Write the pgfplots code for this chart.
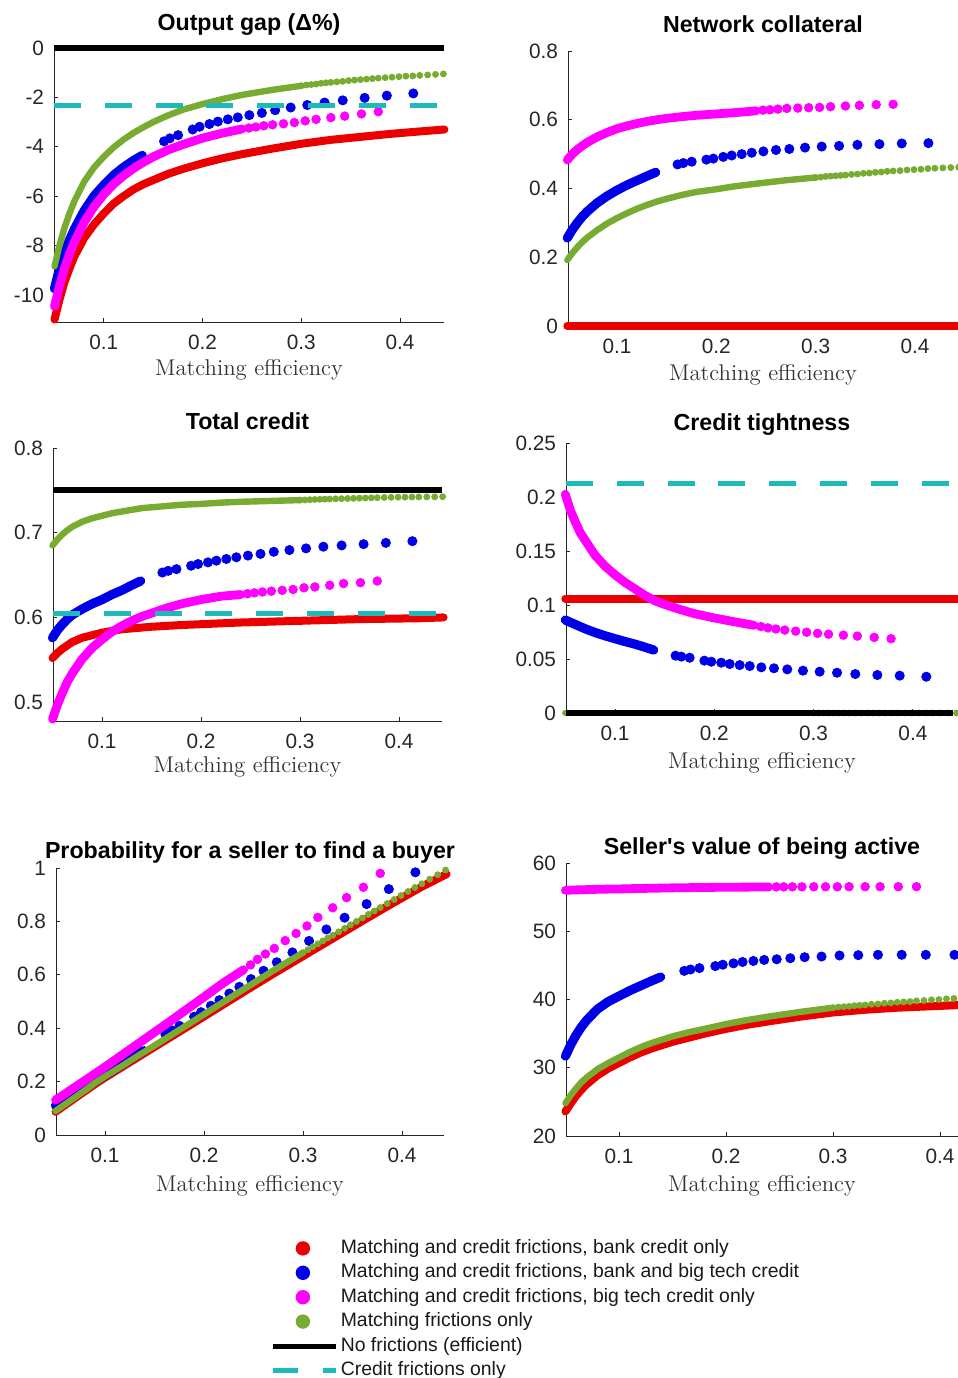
\documentclass[border=0pt]{standalone}
\usepackage{fontspec}
\usepackage{pgfplots}
\pgfplotsset{compat=1.18}
\usepackage{pgfplotstable}
\newfontfamily\arial{Liberation Sans}
\newcommand\tickfont{\arial\fontsize{10.4}{12}\selectfont}
\newcommand\titlefont{\arial\bfseries\fontsize{11.6}{13.9}\selectfont}
\newcommand\labfont{\fontsize{11.4}{13.7}\selectfont}
\newcommand\legfont{\arial\fontsize{9.7}{11.6}\selectfont}
\definecolor{cR}{RGB}{235,0,0}
\definecolor{cB}{RGB}{0,0,230}
\definecolor{cM}{RGB}{255,0,255}
\definecolor{cG}{RGB}{119,172,48}
\definecolor{cC}{RGB}{30,185,185}

% columns: x, output gap, network collateral, total credit, credit tightness, probability, seller value
\pgfplotstableread{
x og nc tc ct pr sv
0.050 -11.00 0 0.552 0.106 0.087 23.6
0.055 -10.20 0 0.558 0.106 0.100 24.8
0.060 -9.50 0 0.563 0.106 0.113 25.9
0.065 -8.95 0 0.567 0.106 0.126 26.8
0.070 -8.45 0 0.571 0.106 0.139 27.6
0.080 -7.70 0 0.576 0.106 0.165 28.9
0.090 -7.15 0 0.579 0.106 0.191 29.9
0.100 -6.70 0 0.582 0.106 0.215 30.7
0.110 -6.30 0 0.584 0.106 0.238 31.5
0.120 -6.00 0 0.586 0.106 0.261 32.2
0.130 -5.73 0 0.587 0.106 0.284 32.8
0.140 -5.52 0 0.588 0.106 0.307 33.3
0.150 -5.35 0 0.589 0.106 0.330 33.8
0.165 -5.10 0 0.590 0.106 0.364 34.4
0.180 -4.90 0 0.591 0.106 0.398 35.0
0.200 -4.67 0 0.592 0.106 0.444 35.7
0.220 -4.47 0 0.593 0.106 0.490 36.3
0.240 -4.30 0 0.594 0.106 0.536 36.8
0.270 -4.08 0 0.595 0.106 0.604 37.5
0.300 -3.88 0 0.596 0.106 0.670 38.1
0.330 -3.72 0 0.597 0.106 0.736 38.5
0.360 -3.60 0 0.598 0.106 0.802 38.8
0.390 -3.48 0 0.5985 0.106 0.867 39.0
0.420 -3.38 0 0.599 0.106 0.930 39.2
0.445 -3.30 0 0.600 0.106 0.977 39.4
}\tRed

\pgfplotstableread{
x og nc tc ct pr sv
0.050 -9.75 0.256 0.576 0.0861 0.110 31.7
0.055 -8.95 0.280 0.585 0.0840 0.121 33.4
0.060 -8.35 0.300 0.592 0.0820 0.132 34.8
0.065 -7.80 0.318 0.598 0.0800 0.144 36.0
0.070 -7.35 0.333 0.603 0.0780 0.155 37.0
0.080 -6.60 0.358 0.610 0.0745 0.178 38.6
0.090 -6.00 0.378 0.616 0.0715 0.201 39.7
0.100 -5.55 0.395 0.621 0.0688 0.224 40.5
0.110 -5.15 0.410 0.627 0.0662 0.247 41.3
0.120 -4.83 0.423 0.632 0.0638 0.271 42.0
0.130 -4.56 0.436 0.638 0.0610 0.295 42.7
0.139 -4.35 0.447 0.643 0.0583 0.316 43.3
}\tBlueD

\pgfplotstableread{
x og nc tc ct pr sv
0.161 -3.78 0.470 0.653 0.0531 0.378 44.2
0.1668 -3.66 0.474 0.655 0.0522 0.393 44.4
0.1752 -3.53 0.478 0.657 0.0512 0.409 44.6
0.190 -3.30 0.484 0.661 0.0485 0.443 44.9
0.197 -3.19 0.487 0.663 0.0475 0.460 45.1
0.207 -3.08 0.492 0.665 0.0466 0.484 45.3
0.2155 -2.98 0.496 0.667 0.0454 0.505 45.5
0.2256 -2.89 0.500 0.669 0.0444 0.530 45.65
0.2357 -2.81 0.504 0.671 0.0435 0.555 45.8
0.2474 -2.72 0.508 0.673 0.0423 0.584 45.9
0.2601 -2.63 0.512 0.675 0.0414 0.615 46.05
0.2735 -2.52 0.515 0.6775 0.0404 0.647 46.2
0.2893 -2.41 0.519 0.6795 0.0392 0.684 46.3
0.3061 -2.31 0.522 0.6815 0.0383 0.727 46.45
0.3236 -2.21 0.524 0.6835 0.0373 0.770 46.5
0.342 -2.12 0.527 0.685 0.0361 0.814 46.55
0.3642 -2.02 0.529 0.6865 0.0352 0.865 46.55
0.3867 -1.93 0.531 0.688 0.0346 0.921 46.55
0.4135 -1.84 0.532 0.690 0.0336 0.984 46.55
}\tBlueS

\pgfplotstableread{
x og nc tc ct pr sv
0.050 -10.47 0.483 0.480 0.2025 0.131 56.00
0.055 -9.65 0.500 0.497 0.188 0.143 56.03
0.060 -8.95 0.513 0.511 0.177 0.155 56.06
0.065 -8.37 0.524 0.524 0.167 0.168 56.09
0.070 -7.87 0.534 0.534 0.160 0.180 56.10
0.080 -7.06 0.550 0.551 0.146 0.205 56.15
0.090 -6.43 0.563 0.564 0.136 0.230 56.18
0.100 -5.93 0.574 0.574 0.128 0.255 56.20
0.110 -5.51 0.582 0.583 0.121 0.281 56.24
0.120 -5.17 0.589 0.590 0.115 0.307 56.27
0.130 -4.88 0.595 0.596 0.109 0.333 56.30
0.140 -4.63 0.600 0.601 0.104 0.359 56.33
0.150 -4.41 0.604 0.605 0.1005 0.385 56.36
0.165 -4.13 0.609 0.611 0.096 0.424 56.39
0.180 -3.91 0.613 0.616 0.092 0.464 56.42
0.200 -3.65 0.617 0.621 0.088 0.517 56.45
0.220 -3.45 0.621 0.625 0.0845 0.571 56.47
0.240 -3.28 0.626 0.627 0.0812 0.619 56.49
}\tMagD

\pgfplotstableread{
x og nc tc ct pr sv
0.247 -3.24 0.628 0.628 0.0800 0.637 56.50
0.254 -3.20 0.629 0.629 0.0788 0.658 56.50
0.262 -3.15 0.631 0.630 0.0778 0.678 56.51
0.271 -3.11 0.633 0.631 0.0768 0.699 56.51
0.282 -3.07 0.634 0.632 0.0758 0.728 56.52
0.293 -3.02 0.635 0.633 0.0748 0.755 56.52
0.304 -2.95 0.636 0.635 0.0738 0.783 56.52
0.315 -2.89 0.638 0.636 0.0730 0.815 56.53
0.330 -2.82 0.640 0.638 0.0721 0.851 56.53
0.344 -2.76 0.642 0.640 0.0712 0.889 56.53
0.361 -2.67 0.644 0.641 0.0700 0.928 56.53
0.378 -2.58 0.645 0.643 0.0688 0.980 56.53
}\tMagS

\pgfplotstableread{
x og nc tc ct pr sv
0.050 -8.85 0.192 0.685 0 0.090 24.8
0.055 -8.00 0.212 0.692 0 0.103 26.0
0.060 -7.30 0.229 0.698 0 0.116 27.0
0.065 -6.72 0.244 0.703 0 0.129 27.9
0.070 -6.22 0.257 0.707 0 0.142 28.6
0.080 -5.42 0.279 0.713 0 0.168 29.8
0.090 -4.84 0.298 0.717 0 0.195 30.7
0.100 -4.40 0.314 0.720 0 0.219 31.5
0.110 -4.02 0.328 0.723 0 0.242 32.3
0.120 -3.71 0.341 0.725 0 0.265 33.0
0.130 -3.44 0.352 0.727 0 0.289 33.6
0.140 -3.21 0.362 0.729 0 0.312 34.1
0.150 -3.00 0.370 0.730 0 0.335 34.6
0.165 -2.73 0.381 0.7315 0 0.370 35.2
0.180 -2.50 0.390 0.733 0 0.405 35.7
0.200 -2.27 0.398 0.734 0 0.452 36.4
0.220 -2.07 0.407 0.7355 0 0.499 37.0
0.240 -1.90 0.414 0.7365 0 0.546 37.5
0.270 -1.70 0.424 0.7375 0 0.616 38.2
0.300 -1.53 0.432 0.7385 0 0.683 38.8
}\tGreenD

\pgfplotstableread{
x og nc tc ct pr sv
0.300 -1.53 0.432 0.7385 0 0.683 38.8
0.305 -1.50 0.433 0.7387 0 0.694 38.9
0.310 -1.48 0.435 0.7390 0 0.705 38.95
0.315 -1.46 0.436 0.7392 0 0.716 39.0
0.320 -1.43 0.437 0.7394 0 0.727 39.1
0.325 -1.41 0.438 0.7396 0 0.738 39.15
0.330 -1.39 0.439 0.7398 0 0.748 39.2
0.336 -1.37 0.441 0.7400 0 0.761 39.3
0.342 -1.35 0.442 0.7402 0 0.774 39.35
0.348 -1.32 0.444 0.7404 0 0.787 39.45
0.354 -1.30 0.445 0.7406 0 0.800 39.5
0.360 -1.28 0.447 0.7408 0 0.813 39.6
0.366 -1.26 0.448 0.7410 0 0.826 39.65
0.372 -1.24 0.450 0.7412 0 0.839 39.7
0.378 -1.22 0.451 0.7414 0 0.852 39.8
0.385 -1.20 0.452 0.7416 0 0.867 39.85
0.392 -1.18 0.454 0.7418 0 0.882 39.95
0.399 -1.16 0.455 0.7419 0 0.897 40.0
0.406 -1.14 0.456 0.7420 0 0.912 40.1
0.413 -1.13 0.458 0.7421 0 0.927 40.15
0.420 -1.11 0.459 0.7422 0 0.941 40.2
0.428 -1.09 0.460 0.7423 0 0.958 40.3
0.436 -1.07 0.461 0.7424 0 0.975 40.35
0.444 -1.05 0.462 0.7425 0 0.9925 40.4
}\tGreenS

\pgfplotsset{
  panel/.style={
    scale only axis, clip=false, clip marker paths=true, axis lines*=left,
    axis line style={-, line width=0.45pt, black!85},
    tick align=inside, major tick length=2pt,
    tick style={line width=0.45pt, black!85},
    scaled ticks=false, minor tick num=0,
    xtick={0.1,0.2,0.3,0.4}, xticklabels={0.1,0.2,0.3,0.4},
    tick label style={font=\tickfont, text=black!85},
    xticklabel style={anchor=north, inner sep=0pt, yshift=-6.5pt},
    yticklabel style={anchor=east, inner sep=0pt, xshift=-4.8pt},
    title style={font=\titlefont, at={(axis description cs:0.5,1)}, anchor=base},
    xlabel={Matching efficiency},
    xlabel style={font=\labfont, text=black!80, at={(axis description cs:0.5,0)}, anchor=base},
  },
  lR/.style={no markers, draw=cR, line width=4pt, line cap=round, line join=round},
  lB/.style={no markers, draw=cB, line width=4.6pt, line cap=round, line join=round},
  mB/.style={only marks, mark=*, mark size=2.3pt, color=cB},
  lM/.style={no markers, draw=cM, line width=4.4pt, line cap=round, line join=round},
  mM/.style={only marks, mark=*, mark size=2.15pt, color=cM},
  lG/.style={no markers, draw=cG, line width=3.2pt, line cap=round, line join=round},
  mG/.style={only marks, mark=*, mark size=1.5pt, color=cG},
  lK/.style={no markers, draw=black, line width=2.9pt},
  lC/.style={no markers, draw=cC, line width=2.5pt, dash pattern=on 13.5pt off 11.9pt},
}

\begin{document}
\begin{tikzpicture}
\useasboundingbox (0,0) rectangle (479pt,-689pt);
\clip (0,0) rectangle (479pt,-689pt);

% ---------- Panel 1: Output gap
\begin{axis}[panel, at={(27pt,-161pt)}, anchor=south west, width=195pt, height=137pt,
  xmin=0.0495, xmax=0.4446, ymin=-11.1, ymax=0,
  ytick={-10,-8,-6,-4,-2,0}, yticklabels={-10,-8,-6,-4,-2,0},
  title={Output gap (Δ\%)}, title style={yshift=3pt}, xlabel style={yshift=-26.5pt}]
\addplot[lR] table[x=x,y=og]{\tRed};
\addplot[lB] table[x=x,y=og]{\tBlueD};
\addplot[mB] table[x=x,y=og]{\tBlueS};
\addplot[lM] table[x=x,y=og]{\tMagD};
\addplot[mM] table[x=x,y=og]{\tMagS};
\addplot[lG] table[x=x,y=og]{\tGreenD};
\addplot[mG] table[x=x,y=og]{\tGreenS};
\addplot[lK] coordinates {(0.0495,0) (0.4446,0)};
\addplot[lC] coordinates {(0.0495,-2.31) (0.4446,-2.31)};
\end{axis}

% ---------- Panel 2: Network collateral
\begin{axis}[panel, at={(284pt,-163pt)}, anchor=south west, width=195pt, height=137.5pt,
  xmin=0.0507, xmax=0.4433, ymin=0, ymax=0.8,
  ytick={0,0.2,0.4,0.6,0.8}, yticklabels={0,0.2,0.4,0.6,0.8},
  title={Network collateral}, title style={yshift=3.3pt}, xlabel style={yshift=-27pt}]
\addplot[lR] table[x=x,y=nc]{\tRed};
\addplot[lB] table[x=x,y=nc]{\tBlueD};
\addplot[mB] table[x=x,y=nc]{\tBlueS};
\addplot[lM] table[x=x,y=nc]{\tMagD};
\addplot[mM] table[x=x,y=nc]{\tMagS};
\addplot[lG] table[x=x,y=nc]{\tGreenD};
\addplot[mG] table[x=x,y=nc]{\tGreenS};
\end{axis}

% ---------- Panel 3: Total credit
\begin{axis}[panel, at={(26.5pt,-360.5pt)}, anchor=south west, width=194.5pt, height=136.5pt,
  xmin=0.0505, xmax=0.4434, ymin=0.4777, ymax=0.8,
  ytick={0.5,0.6,0.7,0.8}, yticklabels={0.5,0.6,0.7,0.8},
  title={Total credit}, title style={yshift=3.3pt}, xlabel style={yshift=-25.8pt}]
\addplot[lR] table[x=x,y=tc]{\tRed};
\addplot[lB] table[x=x,y=tc]{\tBlueD};
\addplot[mB] table[x=x,y=tc]{\tBlueS};
\addplot[lM] table[x=x,y=tc]{\tMagD};
\addplot[mM] table[x=x,y=tc]{\tMagS};
\addplot[lG] table[x=x,y=tc]{\tGreenD};
\addplot[mG] table[x=x,y=tc]{\tGreenS};
\addplot[lK] coordinates {(0.0505,0.75) (0.4434,0.75)};
\addplot[lC] coordinates {(0.0505,0.605) (0.4434,0.605)};
\end{axis}

% ---------- Panel 4: Credit tightness
\begin{axis}[panel, at={(283pt,-356.5pt)}, anchor=south west, width=196pt, height=135pt,
  xmin=0.0507, xmax=0.4454, ymin=0, ymax=0.25,
  ytick={0,0.05,0.1,0.15,0.2,0.25}, yticklabels={0,0.05,0.1,0.15,0.2,0.25},
  title={Credit tightness}, title style={yshift=0.5pt}, xlabel style={yshift=-27.5pt}]
\addplot[lR] table[x=x,y=ct]{\tRed};
\addplot[lB] table[x=x,y=ct]{\tBlueD};
\addplot[mB] table[x=x,y=ct]{\tBlueS};
\addplot[lM] table[x=x,y=ct]{\tMagD};
\addplot[mM] table[x=x,y=ct]{\tMagS};
\addplot[lG] table[x=x,y=ct]{\tGreenD};
\addplot[mG] table[x=x,y=ct]{\tGreenS};
\addplot[lK] coordinates {(0.0507,0) (0.440,0)};
\addplot[lC] coordinates {(0.0507,0.2125) (0.4454,0.2125)};
\end{axis}

% ---------- Panel 5: Probability
\begin{axis}[panel, at={(28pt,-567.5pt)}, anchor=south west, width=194pt, height=133.5pt,
  xmin=0.0505, xmax=0.4424, ymin=0, ymax=1,
  ytick={0,0.2,0.4,0.6,0.8,1}, yticklabels={0,0.2,0.4,0.6,0.8,1},
  title={Probability for a seller to find a buyer}, title style={yshift=-1pt}, xlabel style={yshift=-28.3pt}]
\addplot[lR] table[x=x,y=pr]{\tRed};
\addplot[lB] table[x=x,y=pr]{\tBlueD};
\addplot[mB] table[x=x,y=pr]{\tBlueS};
\addplot[lM] table[x=x,y=pr]{\tMagD};
\addplot[mM] table[x=x,y=pr]{\tMagS};
\addplot[lG] table[x=x,y=pr]{\tGreenD};
\addplot[mG] table[x=x,y=pr]{\tGreenS};
\end{axis}

% ---------- Panel 6: Seller's value
\begin{axis}[panel, at={(283pt,-568pt)}, anchor=south west, width=196pt, height=136.5pt,
  xmin=0.0505, xmax=0.4168, ymin=20, ymax=60,
  ytick={20,30,40,50,60}, yticklabels={20,30,40,50,60},
  title={Seller\textquotesingle s value of being active}, title style={yshift=-1.5pt}, xlabel style={yshift=-27.8pt}]
\addplot[lR] table[x=x,y=sv]{\tRed};
\addplot[lB] table[x=x,y=sv]{\tBlueD};
\addplot[mB] table[x=x,y=sv]{\tBlueS};
\addplot[lM] table[x=x,y=sv]{\tMagD};
\addplot[mM] table[x=x,y=sv]{\tMagS};
\addplot[lG] table[x=x,y=sv]{\tGreenD};
\addplot[mG] table[x=x,y=sv]{\tGreenS};
\end{axis}

% ---------- Legend
\begin{axis}[hide axis, scale only axis, width=479pt, height=689pt,
  at={(0pt,-689pt)}, anchor=south west, xmin=0, xmax=1, ymin=0, ymax=1,
  legend cell align=left,
  legend style={at={(0.28184,0.1032)}, anchor=north west, draw=none, fill=none,
    inner sep=0pt, row sep=0pt, font=\legfont, text=black!90,
    nodes={inner xsep=1.2pt, inner ysep=1.6pt, text height=7pt, text depth=2pt}}]
\addlegendimage{legend image code/.code={\path[draw=none,fill=none] (0pt,0pt) -- (31.5pt,0pt); \fill[cR,draw=none] (15pt,0pt) circle (3.6pt);}}
\addlegendentry{Matching and credit frictions, bank credit only}
\addlegendimage{legend image code/.code={\path[draw=none,fill=none] (0pt,0pt) -- (31.5pt,0pt); \fill[cB,draw=none] (15pt,0pt) circle (3.6pt);}}
\addlegendentry{Matching and credit frictions, bank and big tech credit}
\addlegendimage{legend image code/.code={\path[draw=none,fill=none] (0pt,0pt) -- (31.5pt,0pt); \fill[cM,draw=none] (15pt,0pt) circle (3.6pt);}}
\addlegendentry{Matching and credit frictions, big tech credit only}
\addlegendimage{legend image code/.code={\path[draw=none,fill=none] (0pt,0pt) -- (31.5pt,0pt); \fill[cG,draw=none] (15pt,0pt) circle (3.6pt);}}
\addlegendentry{Matching frictions only}
\addlegendimage{legend image code/.code={\draw[black, line width=2.5pt] (0pt,0pt) -- (31.5pt,0pt);}}
\addlegendentry{No frictions (efficient)}
\addlegendimage{legend image code/.code={\draw[cC, line width=2.5pt, dash pattern=on 12.5pt off 12.5pt] (0pt,0pt) -- (31.5pt,0pt);}}
\addlegendentry{Credit frictions only}
\end{axis}
\end{tikzpicture}
\end{document}
